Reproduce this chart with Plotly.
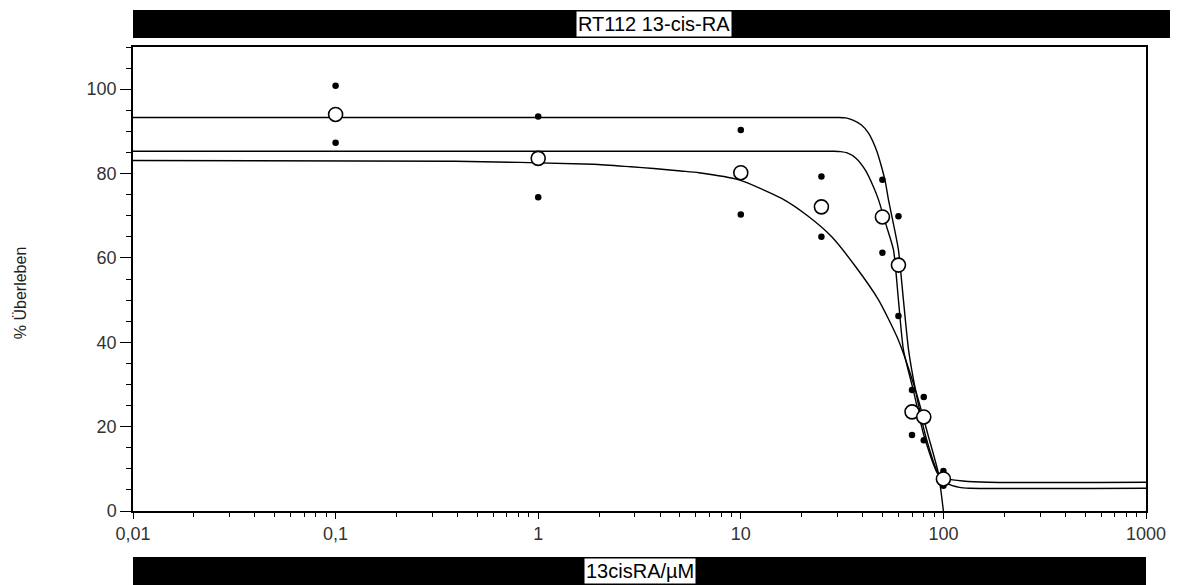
import plotly.graph_objects as go

# ---- data ----
conc = [0.1, 1, 10, 25, 50, 60, 70, 80, 100]
mean_surv = [94.0, 83.6, 80.2, 72.1, 69.7, 58.3, 23.5, 22.3, 7.6]
rep_a = [100.8, 93.5, 90.3, 79.3, 78.5, 69.9, 28.7, 27.0, 9.5]
rep_b = [87.3, 74.4, 70.3, 65.0, 61.2, 46.2, 18.0, 16.8, 6.0]

curve_a_x = [0.01, 30, 33, 36, 39.4, 42.7, 46.7, 49.5, 51.8, 53.6, 57, 60, 63.5, 67.3, 72.8, 82, 94.4, 105, 125, 167, 1000]
curve_a_y = [93.3, 93.3, 93.2, 92.6, 91.5, 89.6, 85.6, 81.6, 77.8, 73.7, 67.5, 61.9, 50.0, 38.2, 28.7, 17.5, 9.0, 7.6, 7.1, 6.8, 6.8]

curve_b_x = [0.01, 29, 31.1, 33.5, 36.9, 41.2, 45.2, 47.9, 52, 56.7, 60, 63.5, 71.0, 80, 93.3, 105, 120, 135, 1000]
curve_b_y = [85.3, 85.3, 85.2, 84.9, 83.7, 80.8, 76.8, 73.7, 68.0, 61.9, 50.0, 38.2, 28.7, 18.0, 9.0, 6.5, 5.6, 5.4, 5.4]

curve_c_x = [0.01, 0.39, 1.87, 2.87, 3.72, 5.06, 6.21, 9.8, 15.9, 21.6, 28.1, 36.9, 47.9, 60, 72.8, 84, 94.4, 100]
curve_c_y = [83.1, 82.9, 82.2, 81.6, 81.2, 80.6, 80.2, 78.5, 74.1, 69.8, 65.0, 57.9, 50.0, 40.5, 28.7, 18.0, 9.0, 0.0]

x_tickvals = [0.01, 0.1, 1, 10, 100, 1000]
x_ticktext = ["0,01", "0,1", "1", "10", "100", "1000"]
y_tickvals = [0, 20, 40, 60, 80, 100]

title_text = "RT112 13-cis-RA"
x_title = "13cisRA/µM"
y_title = "% Überleben"

FONT = "Liberation Sans, Arial, sans-serif"

# ---- figure ----
fig = go.Figure()
for cx, cy in [(curve_a_x, curve_a_y), (curve_b_x, curve_b_y), (curve_c_x, curve_c_y)]:
    fig.add_trace(go.Scatter(x=cx, y=cy, mode="lines",
                             line=dict(color="black", width=1.4, shape="spline", smoothing=0.6),
                             hoverinfo="skip", showlegend=False))

fig.add_trace(go.Scatter(x=conc + conc, y=rep_a + rep_b, mode="markers",
                         marker=dict(color="black", size=6.5, symbol="circle"),
                         showlegend=False))
fig.add_trace(go.Scatter(x=conc, y=mean_surv, mode="markers",
                         marker=dict(color="white", size=14, symbol="circle",
                                     line=dict(color="black", width=1.6)),
                         showlegend=False))

minor_x = [k * 10.0 ** e for e in range(-2, 3) for k in range(2, 10)]

fig.update_xaxes(type="log", range=[-2, 3],
                 tickmode="array", tickvals=x_tickvals, ticktext=x_ticktext,
                 ticks="outside", ticklen=6, tickwidth=1.3, tickcolor="black",
                 minor=dict(tickvals=minor_x, ticks="outside", ticklen=4, tickwidth=1.2, tickcolor="black"),
                 showline=True, linecolor="black", linewidth=1.5, mirror=True,
                 showgrid=False, zeroline=False,
                 tickfont=dict(family=FONT, size=18, color="#333"))
fig.update_yaxes(range=[0, 110],
                 tickmode="array", tickvals=y_tickvals,
                 ticks="outside", ticklen=11, tickwidth=1.3, tickcolor="black",
                 minor=dict(dtick=5, tick0=0, ticks="outside", ticklen=5, tickwidth=1.2, tickcolor="black"),
                 showline=True, linecolor="black", linewidth=1.5, mirror=True,
                 showgrid=False, zeroline=False,
                 tickfont=dict(family=FONT, size=18, color="#333"))

# plot area in page pixels: left 133, right 1148, top 47, bottom 511 (page has an 8px body margin)
# paper height = 464, width = 1015
fig.add_shape(type="rect", xref="paper", yref="paper", x0=0, x1=1.03, y0=(511 - 38) / 464, y1=(511 - 10) / 464,
              fillcolor="black", line=dict(width=0), layer="above")
fig.add_shape(type="rect", xref="paper", yref="paper", x0=0, x1=1.0, y0=-0.16, y1=(511 - 557) / 464,
              fillcolor="black", line=dict(width=0), layer="above")

fig.add_annotation(text=title_text, xref="paper", yref="paper", x=(655 - 133) / 1015, y=(511 - 24) / 464,
                   xanchor="center", yanchor="middle",
                   showarrow=False, bgcolor="white", borderpad=1,
                   font=dict(family=FONT, size=20, color="black"))
fig.add_annotation(text=x_title, xref="paper", yref="paper", x=0.5, y=(511 - 571) / 464,
                   xanchor="center", yanchor="middle",
                   showarrow=False, bgcolor="white", borderpad=1,
                   font=dict(family=FONT, size=20, color="black"))
fig.add_annotation(text=y_title, xref="paper", yref="paper", x=(20 - 133) / 1015, y=(511 - 293) / 464,
                   xanchor="center", yanchor="middle",
                   showarrow=False, textangle=-90,
                   font=dict(family=FONT, size=16, color="#222"))

fig.update_layout(width=1170, height=577,
                  margin=dict(l=125, r=30, t=39, b=74),
                  paper_bgcolor="white", plot_bgcolor="white")

fig.write_html("out.html")
